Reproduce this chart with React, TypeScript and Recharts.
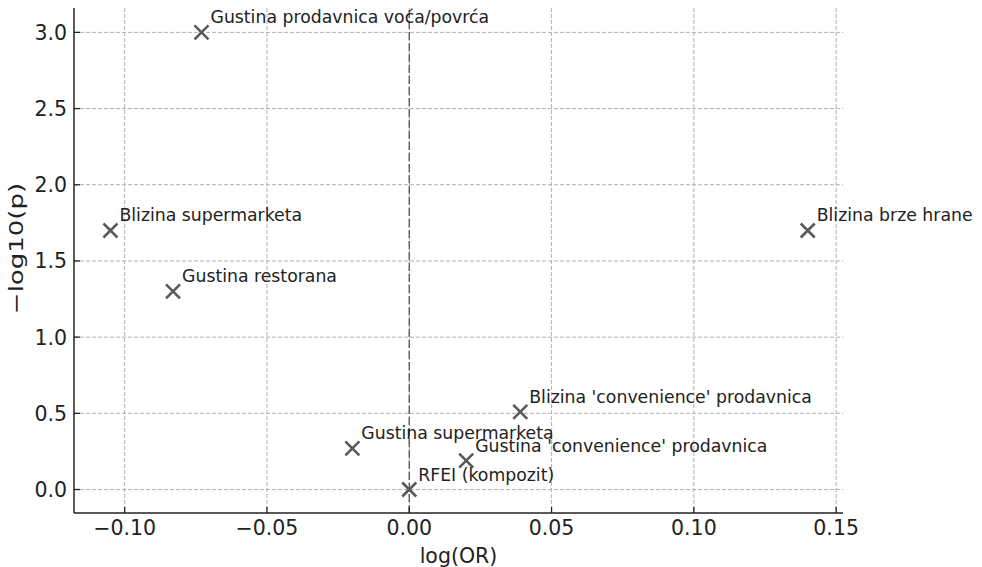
import React from 'react';
import { ScatterChart, Scatter, XAxis, YAxis, CartesianGrid, ReferenceLine } from 'recharts';

const names = [
  'Gustina prodavnica voća/povrća',
  'Blizina supermarketa',
  'Gustina restorana',
  'Blizina brze hrane',
  "Blizina 'convenience' prodavnica",
  'Gustina supermarketa',
  "Gustina 'convenience' prodavnica",
  'RFEI (kompozit)',
];
const logOR = [-0.073, -0.105, -0.083, 0.14, 0.039, -0.02, 0.02, 0.0];
const negLog10P = [3.0, 1.7, 1.3, 1.7, 0.51, 0.27, 0.19, 0.0];

const xTicks = [-0.1, -0.05, 0, 0.05, 0.1, 0.15];
const yTicks = [0, 0.5, 1.0, 1.5, 2.0, 2.5, 3.0];

const data = names.map((name, i) => ({ name, x: logOR[i], y: negLog10P[i] }));

const FONT = '"DejaVu Sans", sans-serif';
const TEXT = '#222';

const fmtX = (v: number) => (v < 0 ? '\u2212' : '') + Math.abs(v).toFixed(2);
const fmtY = (v: number) => (v < 0 ? '\u2212' : '') + Math.abs(v).toFixed(1);

const XTick = (props: any) => {
  const { x, y, payload } = props;
  return (
    <g>
      <line x1={x} x2={x} y1={y} y2={y - 6} stroke="#222" strokeWidth={1.3} />
      <text x={x} y={y + 22} textAnchor="middle" fontFamily={FONT} fontSize={20.5} fill={TEXT}>
        {fmtX(payload.value)}
      </text>
    </g>
  );
};

const YTick = (props: any) => {
  const { x, y, payload } = props;
  return (
    <g>
      <line x1={x} x2={x + 6} y1={y} y2={y} stroke="#222" strokeWidth={1.3} />
      <text x={x - 7} y={y + 7.5} textAnchor="end" fontFamily={FONT} fontSize={20.5} fill={TEXT}>
        {fmtY(payload.value)}
      </text>
    </g>
  );
};

const XLabel = (props: any) => {
  const vb = props.viewBox || { x: 74, y: 513, width: 769 };
  return (
    <text x={vb.x + vb.width / 2} y={vb.y + 50} textAnchor="middle" fontFamily={FONT} fontSize={20.5} fill={TEXT}>
      log(OR)
    </text>
  );
};

const YLabel = (props: any) => {
  const vb = props.viewBox || { x: 0, y: 8, width: 74, height: 505 };
  const cy = vb.y + vb.height / 2 - 12;
  return (
    <text
      transform={`translate(23, ${cy}) rotate(-90) scale(1.3, 1)`}
      textAnchor="middle"
      fontFamily={FONT}
      fontSize={20}
      fill={TEXT}
    >
      {'\u2212log10(p)'}
    </text>
  );
};

const Marker = (props: any) => {
  const { cx, cy, payload } = props;
  const s = 7;
  return (
    <g>
      <path
        d={`M${cx - s},${cy - s}L${cx + s},${cy + s}M${cx - s},${cy + s}L${cx + s},${cy - s}`}
        stroke="#5a5a5a"
        strokeWidth={2.6}
        fill="none"
      />
      <text x={cx + 9} y={cy - 9} fontFamily={FONT} fontSize={17.3} fill={TEXT}>
        {payload.name}
      </text>
    </g>
  );
};

export default function App() {
  return (
    <div style={{ position: 'absolute', left: 0, top: 0, background: '#fff' }}>
      <ScatterChart width={982} height={567} margin={{ top: 8, right: 139, bottom: 0, left: 0 }}>
        <CartesianGrid
          stroke="#b0b0b0"
          strokeDasharray="4 2"
          strokeWidth={1}
          horizontalValues={yTicks}
          verticalValues={xTicks}
        />
        <XAxis
          type="number"
          dataKey="x"
          domain={[-0.1178, 0.1524]}
          ticks={xTicks}
          height={54}
          axisLine={{ stroke: '#222', strokeWidth: 1.5 }}
          tickLine={false}
          tickSize={0}
          tickMargin={0}
          tick={<XTick />}
          interval={0}
          label={<XLabel />}
        />
        <YAxis
          type="number"
          dataKey="y"
          domain={[-0.154, 3.16]}
          ticks={yTicks}
          width={74}
          axisLine={{ stroke: '#222', strokeWidth: 1.5 }}
          tickLine={false}
          tickSize={0}
          tickMargin={0}
          tick={<YTick />}
          interval={0}
          label={<YLabel />}
        />
        <ReferenceLine x={0} stroke="#555" strokeDasharray="8 3" strokeWidth={1.3} />
        <Scatter data={data} isAnimationActive={false} shape={(p: any) => <Marker {...p} />} />
      </ScatterChart>
    </div>
  );
}
